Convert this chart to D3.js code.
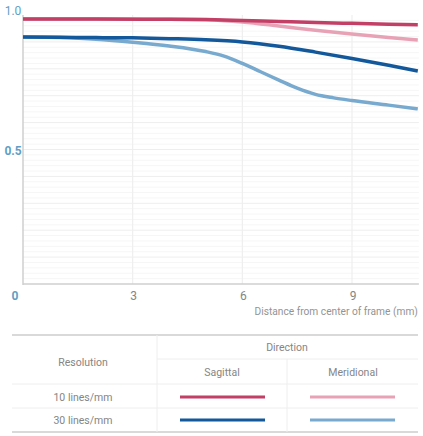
<!DOCTYPE html>
<html><head><meta charset="utf-8">
<script src="https://cdn.jsdelivr.net/npm/d3@7"></script>
<style>body{margin:0;background:#fff}svg{display:block}text{font-family:Roboto,"Liberation Sans",sans-serif}</style>
</head><body><svg id="c" width="423" height="436"></svg>
<script>
const xTicks = [3, 6, 9];
const yTickLabels = [["0", 0], ["0.5", 0.5], ["1.0", 1.0]];
const xLabel = "Distance from center of frame (mm)";
const s10Sagittal = [[0,0.985],[2,0.985],[4,0.984],[5,0.983],[6,0.980],[7,0.976],[8,0.972],[9,0.969],[10,0.966],[10.8,0.964]];
const s10Meridional = [[0,0.985],[2,0.985],[4,0.984],[5,0.982],[5.5,0.979],[6,0.974],[7,0.959],[8,0.943],[9,0.929],[10,0.916],[10.8,0.907]];
const s30Sagittal = [[0,0.918],[1,0.917],[2,0.916],[3,0.915],[4,0.912],[5,0.908],[6,0.900],[7,0.884],[8,0.862],[9,0.838],[10,0.813],[10.8,0.792]];
const s30Meridional = [[0,0.918],[1,0.916],[2,0.910],[3,0.899],[4,0.885],[5,0.864],[5.5,0.847],[6,0.820],[6.5,0.789],[7,0.758],[7.5,0.728],[8,0.705],[8.5,0.692],[9,0.682],[10,0.665],[10.8,0.651]];
const resolutions = ["10 lines/mm", "30 lines/mm"];
const directions = ["Sagittal", "Meridional"];
const colors = {s10:"#c23f66", m10:"#e8a2b6", s30:"#13589b", m30:"#78a9cf"};

const svg = d3.select("#c");
const x = d3.scaleLinear().domain([0, 9]).range([23, 352]);
const xEnd = 10.83;
const y = d3.scaleLinear().domain([0, 1]).range([284, 15]);

// minor grid
const g = svg.append("g");
g.selectAll("line.minor").data(d3.range(1, 50).map(i => i * 0.02)).join("line")
  .attr("x1", x(0)).attr("x2", x(xEnd)).attr("y1", d => y(d)).attr("y2", d => y(d))
  .attr("stroke", (d) => (Math.round(d*100) % 10 === 0) ? "#eeeeee" : "#f6f6f6").attr("stroke-width", 1);
g.selectAll("line.vg").data(xTicks).join("line")
  .attr("x1", d => x(d)).attr("x2", d => x(d)).attr("y1", y(1)).attr("y2", y(0))
  .attr("stroke", "#eeeeee").attr("stroke-width", 1.2);

// axes lines
svg.append("line").attr("x1", x(0)).attr("x2", x(0)).attr("y1", y(1)).attr("y2", y(0)+1).attr("stroke", "#cfcfcf").attr("stroke-width", 1.5);
svg.append("line").attr("x1", x(0)).attr("x2", x(xEnd)).attr("y1", y(0)).attr("y2", y(0)).attr("stroke", "#cfcfcf").attr("stroke-width", 1.5);

// tick labels
svg.selectAll("text.xt").data(xTicks).join("text")
  .attr("x", d => x(d)+1).attr("y", y(0)+16).attr("text-anchor", "middle")
  .attr("font-size", 12).attr("fill", "#858585").text(d => d);
const yOff = {"0": 16, "0.5": 5, "1.0": 0};
svg.selectAll("text.yt").data(yTickLabels).join("text")
  .attr("x", d => d[0] === "0" ? 15 : 13).attr("y", d => y(d[1]) + yOff[d[0]])
  .attr("text-anchor", "middle").attr("font-size", 12)
  .attr("font-weight", d => d[0] === "1.0" ? "normal" : "bold")
  .attr("fill", "#5f9fc6").text(d => d[0]);
svg.append("text").attr("x", x(xEnd)-1).attr("y", 315).attr("text-anchor", "end")
  .attr("font-size", 10.2).attr("fill", "#939393").text(xLabel);

// curves
const line = d3.line().x(d => x(d[0])).y(d => y(d[1])).curve(d3.curveMonotoneX);
const series = [[s10Meridional, colors.m10],[s10Sagittal, colors.s10],[s30Meridional, colors.m30],[s30Sagittal, colors.s30]];
svg.selectAll("path.s").data(series).join("path")
  .attr("d", d => line(d[0])).attr("fill", "none").attr("stroke", d => d[1])
  .attr("stroke-width", 3.5).attr("stroke-linecap", "butt");

// table
const t = svg.append("g");
const L = 12, R = 418, mid = 157, mid2 = 287;
t.append("line").attr("x1", L).attr("x2", R).attr("y1", 335).attr("y2", 335).attr("stroke", "#cccccc").attr("stroke-width", 1.5);
t.append("line").attr("x1", L).attr("x2", R).attr("y1", 432).attr("y2", 432).attr("stroke", "#cccccc").attr("stroke-width", 1.5);
t.append("line").attr("x1", mid).attr("x2", R).attr("y1", 359).attr("y2", 359).attr("stroke", "#eeeeee");
t.append("line").attr("x1", L).attr("x2", R).attr("y1", 384).attr("y2", 384).attr("stroke", "#eeeeee");
t.append("line").attr("x1", L).attr("x2", R).attr("y1", 408).attr("y2", 408).attr("stroke", "#eeeeee");
t.append("line").attr("x1", mid).attr("x2", mid).attr("y1", 335).attr("y2", 432).attr("stroke", "#eeeeee");
t.append("line").attr("x1", mid2).attr("x2", mid2).attr("y1", 359).attr("y2", 432).attr("stroke", "#eeeeee");
const tf = {size: 10.5, fill: "#858585"};
t.append("text").attr("x", 287).attr("y", 351).attr("text-anchor","middle").attr("font-size", tf.size).attr("fill", tf.fill).text("Direction");
t.append("text").attr("x", 83).attr("y", 366).attr("text-anchor","middle").attr("font-size", tf.size).attr("fill", tf.fill).text("Resolution");
t.selectAll("text.dir").data(directions).join("text")
  .attr("x", (d,i) => i ? 353 : 222).attr("y", 376).attr("text-anchor","middle")
  .attr("font-size", tf.size).attr("fill", tf.fill).text(d => d);
t.selectAll("text.res").data(resolutions).join("text")
  .attr("x", 83).attr("y", (d,i) => 401 + i*23).attr("text-anchor","middle")
  .attr("font-size", tf.size).attr("fill", tf.fill).text(d => d);
const leg = [[colors.s10, colors.m10],[colors.s30, colors.m30]];
leg.forEach((row, i) => {
  row.forEach((c, j) => {
    const x1 = j ? 310 : 180;
    t.append("line").attr("x1", x1).attr("x2", x1 + 85).attr("y1", 397 + i*23).attr("y2", 397 + i*23)
      .attr("stroke", c).attr("stroke-width", 3);
  });
});
</script></body></html>
